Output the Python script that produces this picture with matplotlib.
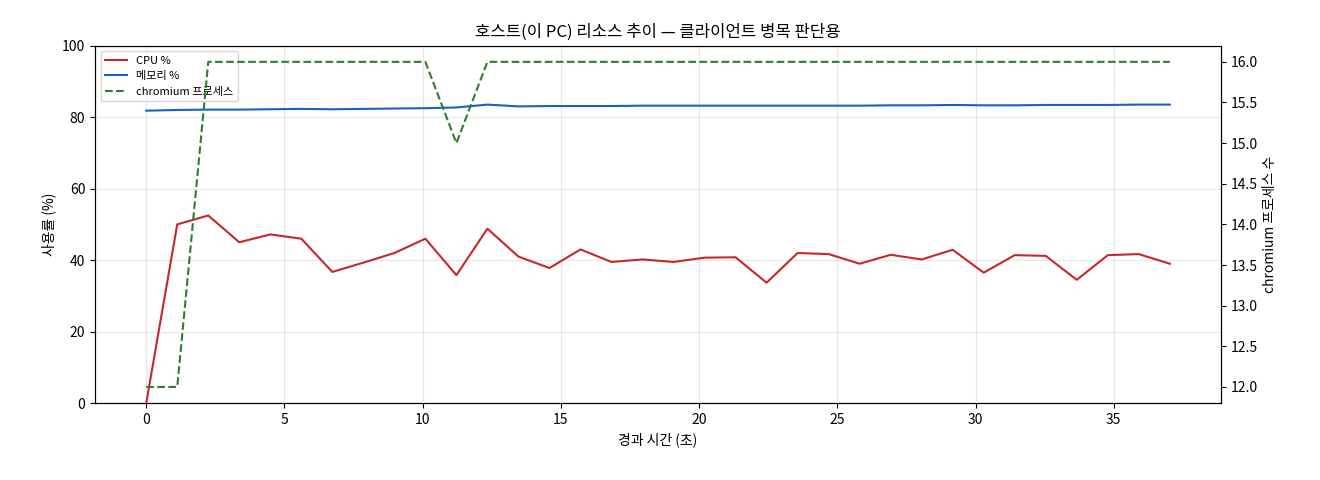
import matplotlib
matplotlib.use("Agg")
import matplotlib.pyplot as plt
plt.rcParams['font.family'] = ['Noto Sans CJK KR', 'DejaVu Sans']

t = [i*1.122 for i in range(34)]
cpu = [0, 50, 52.5, 45, 47.2, 46, 36.7, 39.3, 42, 46, 35.8, 48.8, 41, 37.8, 43, 39.5, 40.2, 39.5,
       40.7, 40.8, 33.7, 42, 41.7, 39, 41.5, 40.2, 42.9, 36.5, 41.4, 41.2, 34.5, 41.4, 41.7, 39]
mem = [81.8, 82.0, 82.1, 82.1, 82.2, 82.3, 82.2, 82.3, 82.4, 82.5, 82.7, 83.5, 83.0, 83.1, 83.1, 83.1, 83.2, 83.2,
       83.2, 83.2, 83.2, 83.2, 83.2, 83.2, 83.3, 83.3, 83.4, 83.3, 83.3, 83.4, 83.4, 83.4, 83.5, 83.5]
proc = [12, 12, 16, 16, 16, 16, 16, 16, 16, 16, 15] + [16]*23

fig, ax = plt.subplots(figsize=(13.2, 4.8), dpi=100)
fig.subplots_adjust(left=0.072, right=0.925, top=0.905, bottom=0.16)
l1, = ax.plot(t, cpu, color='#c62828', lw=1.5, label='CPU %')
l2, = ax.plot(t, mem, color='#1565c0', lw=1.5, label='메모리 %')
ax.set_ylim(0, 100)
ax.set_xlabel('경과 시간 (초)')
ax.set_ylabel('사용률 (%)')
ax.grid(True, alpha=0.3)
ax2 = ax.twinx()
l3, = ax2.plot(t, proc, color='#2e7d32', lw=1.5, ls='--', label='chromium 프로세스')
ax2.set_ylim(11.8, 16.2)
ax2.set_ylabel('chromium 프로세스 수')
ax.set_title('호스트(이 PC) 리소스 추이 — 클라이언트 병목 판단용')
ax.legend(handles=[l1, l2, l3], loc='upper left', fontsize=8)
fig.savefig('out.png')
